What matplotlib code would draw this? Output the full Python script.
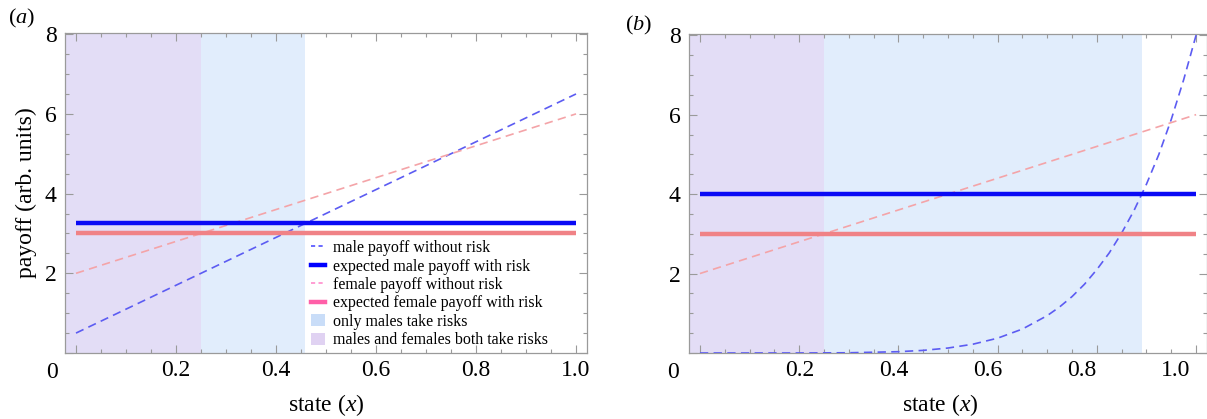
import numpy as np
import matplotlib
matplotlib.use("Agg")
import matplotlib.pyplot as plt
from matplotlib.lines import Line2D
from matplotlib.patches import Patch
from matplotlib.ticker import MultipleLocator
from matplotlib.transforms import ScaledTranslation

plt.rcParams['font.family'] = ['Liberation Serif', 'DejaVu Serif']
plt.rcParams['mathtext.fontset'] = 'custom'
plt.rcParams['mathtext.rm'] = 'Liberation Serif'
plt.rcParams['mathtext.it'] = 'Liberation Serif:italic'

# ---------------- data ----------------
# panel (a)
a_x = [0.0, 1.0]
a_male_no_risk = [0.5, 6.5]
a_female_no_risk = [2.0, 6.0]
a_male_expected = 3.25
a_female_expected = 3.0
a_both_region = [-0.022, 0.25]
a_male_region = [0.25, 0.458]

# panel (b)
b_x = [0.0, 0.1, 0.2, 0.3, 0.4, 0.45, 0.5, 0.55, 0.6, 0.65, 0.7, 0.725, 0.75, 0.775,
       0.8, 0.825, 0.85, 0.875, 0.9, 0.925, 0.95, 0.975, 1.0]
b_male_no_risk = [0.0, 0.0, 0.0005, 0.006, 0.033, 0.066, 0.125, 0.221, 0.373, 0.603,
                  0.941, 1.16, 1.42, 1.73, 2.10, 2.52, 3.02, 3.59, 4.25, 5.00, 5.88, 6.88, 8.0]
b_fx = [0.0, 1.0]
b_female_no_risk = [2.0, 6.0]
b_male_expected = 4.0
b_female_expected = 3.0
b_both_region = [-0.022, 0.25]
b_male_region = [0.25, 0.891]

xticks = [0.0, 0.2, 0.4, 0.6, 0.8, 1.0]
xticklabels = ['', '0.2', '0.4', '0.6', '0.8', '1.0']
yticks = [0, 2, 4, 6, 8]
yticklabels = ['', '2', '4', '6', '8']

legend_labels = ['male payoff without risk', 'expected male payoff with risk',
                 'female payoff without risk', 'expected female payoff with risk',
                 'only males take risks', 'males and females both take risks']

# ---------------- styles ----------------
C_MALE_DASH = '#5c5cf2'
C_MALE_SOLID = '#0a0af5'
C_FEM_DASH = '#f4a4a8'
C_FEM_SOLID = '#f08286'
C_PURPLE = '#e3ddf6'
C_BLUE = '#e1edfc'
FRAME = '#9a9a9a'

W, H = 1207, 419
fig = plt.figure(figsize=(W / 100, H / 100), dpi=100)
ax1 = fig.add_axes([65 / W, 1 - 353 / H, (587 - 65) / W, (353 - 33) / H])
ax2 = fig.add_axes([689 / W, 1 - 353 / H, (1207 - 689) / W, (353 - 34) / H])


def style(ax, zero_x):
    ax.set_xlim(-0.022, 1.022)
    ax.set_ylim(0, 8.03)
    ax.set_xticks(xticks)
    ax.set_xticklabels(xticklabels)
    ax.set_yticks(yticks)
    ax.set_yticklabels(yticklabels)
    ax.xaxis.set_minor_locator(MultipleLocator(0.05))
    ax.yaxis.set_minor_locator(MultipleLocator(0.5))
    ax.tick_params(which='both', direction='in', top=True, right=True, color=FRAME, width=0.8)
    ax.tick_params(which='major', length=6, labelsize=17, pad=6)
    ax.tick_params(axis='x', which='major', pad=5)
    ax.tick_params(which='minor', length=3)
    for s in ax.spines.values():
        s.set_color(FRAME)
        s.set_linewidth(0.9)
    ax.set_xlabel('state ($x$)', fontsize=17, va='center')
    # corner zero label
    ax.text(zero_x, -0.0625, '0', transform=ax.transAxes, fontsize=17, ha='center', va='center')


def dashed(ax, x, y, color):
    ln, = ax.plot(x, y, color=color, lw=1.2, zorder=3)
    ln.set_dashes((5, 3.2))
    return ln


# panel (a)
ax1.axvspan(*a_both_region, color=C_PURPLE, lw=0, zorder=0)
ax1.axvspan(*a_male_region, color=C_BLUE, lw=0, zorder=0)
dashed(ax1, a_x, a_male_no_risk, C_MALE_DASH)
dashed(ax1, a_x, a_female_no_risk, C_FEM_DASH)
ax1.plot(a_x, [a_male_expected] * 2, color=C_MALE_SOLID, lw=3.2, solid_capstyle='butt', zorder=4)
ax1.plot(a_x, [a_female_expected] * 2, color=C_FEM_SOLID, lw=3.2, solid_capstyle='butt', zorder=4)
style(ax1, (52 - 65) / 522)
ax1.set_ylabel('payoff (arb. units)', fontsize=17, va='center')
ax1.yaxis.set_label_coords((26 - 65) / 522, 0.5)
ax1.xaxis.set_label_coords(0.5, (353 - 405) / 320)

# panel (b)
ax2.axvspan(*b_both_region, color=C_PURPLE, lw=0, zorder=0)
ax2.axvspan(*b_male_region, color=C_BLUE, lw=0, zorder=0)
dashed(ax2, b_x, b_male_no_risk, C_MALE_DASH)
dashed(ax2, b_fx, b_female_no_risk, C_FEM_DASH)
ax2.plot(b_fx, [b_male_expected] * 2, color=C_MALE_SOLID, lw=3.2, solid_capstyle='butt', zorder=4)
ax2.plot(b_fx, [b_female_expected] * 2, color=C_FEM_SOLID, lw=3.2, solid_capstyle='butt', zorder=4)
style(ax2, (673 - 689) / 518)
ax2.xaxis.set_label_coords((940 - 689) / 518, (353 - 405) / 319)
# the reference's tick labels in panel (b) drift slightly left of their ticks
label_shift_px = [0, 1, -5, -10, -15, -20]
for lab, dx in zip(ax2.get_xticklabels(), label_shift_px):
    lab.set_transform(lab.get_transform() + ScaledTranslation(dx / 100, 0, fig.dpi_scale_trans))

# legend in panel (a)
h_md = Line2D([], [], color='#5050ff', lw=1.2, dashes=(2.5, 2))
h_ms = Line2D([], [], color='#0000ff', lw=3.2)
h_fd = Line2D([], [], color='#ff8ccc', lw=1.2, dashes=(2.5, 2))
h_fs = Line2D([], [], color='#ff5fa8', lw=3.2)
h_pb = Patch(facecolor='#c9ddf8', edgecolor='none')
h_pp = Patch(facecolor='#e0d2f2', edgecolor='none')
ax1.legend([h_md, h_ms, h_fd, h_fs, h_pb, h_pp], legend_labels, loc='lower left',
           bbox_to_anchor=(0.465, 0.005), frameon=False, fontsize=11.5,
           handlelength=0.85, handleheight=0.8, handletextpad=0.55, labelspacing=0.15,
           borderpad=0.2, borderaxespad=0)

# panel labels
fig.text(8 / W, 1 - 18 / H, '($a$)', fontsize=16, ha='left', va='center')
fig.text(625 / W, 1 - 25 / H, '($b$)', fontsize=16, ha='left', va='center')

fig.savefig('out.png', dpi=100)
